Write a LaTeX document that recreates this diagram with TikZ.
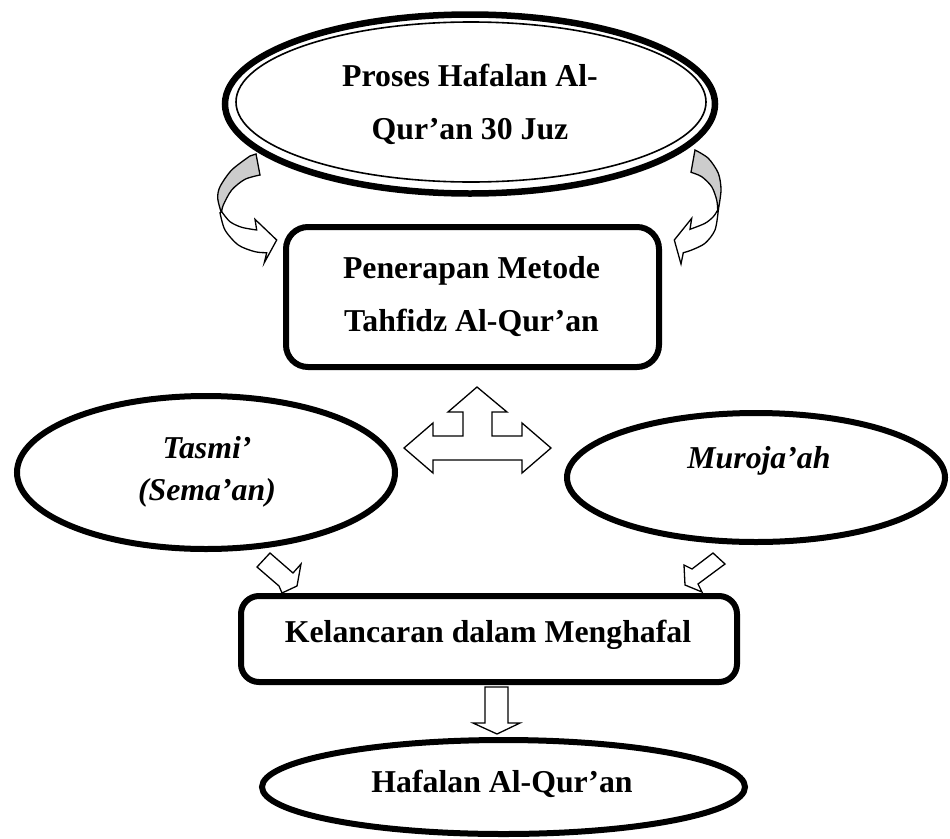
\documentclass[tikz,border=0pt]{standalone}
\usepackage{fontspec}
\setmainfont{Liberation Serif}
\usetikzlibrary{shapes.geometric}
\tikzset{
  shapeline/.style={draw=black, line width=6pt, fill=white, inner sep=0pt, outer sep=0pt},
  ovalbox/.style={shapeline, ellipse},
  roundbox/.style={shapeline, rectangle, rounded corners=20pt},
  lbl/.style={inner sep=0pt, outer sep=0pt, font=\bfseries\fontsize{31.8}{53}\selectfont, align=center},
  lbli/.style={inner sep=0pt, outer sep=0pt, font=\bfseries\itshape\fontsize{31.8}{42}\selectfont, align=center},
  blockarrow/.style={draw=black, line width=1.3pt, fill=white, line join=miter},
  backband/.style={draw=black, line width=1.3pt, fill=gray!40}
}
\begin{document}
\begin{tikzpicture}[x=1pt, y=-1pt]
\useasboundingbox[fill=white] (0,0) rectangle (950,838);

% top ellipse (thick + thin double line)
\node[ovalbox, line width=6.5pt, minimum width=490pt, minimum height=179pt] (proses) at (470,104) {};
\node[ellipse, draw=black, line width=1.6pt, inner sep=0pt, minimum width=470pt, minimum height=160pt] (prosesin) at (471,102) {};
\node[lbl] (prosestxt) at (470,104) {Proses Hafalan Al-\\Qur’an 30 Juz};

% curved arrows: left
\filldraw[backband] (250,156) -- (256,154) -- (260,175)
  -- plot[smooth] coordinates {(260,175) (245,179.3) (231.7,190) (223.3,205) (221.7,211.7)}
  -- plot[smooth] coordinates {(221,211.7) (217.7,198.3) (220,186.7) (231.7,170) (250,156)} -- cycle;
\filldraw[blockarrow] (221.7,211.7)
  -- plot[smooth] coordinates {(221.7,211.7) (230,221.7) (241.7,227.3) (256.7,230)}
  -- (255,219.3) -- (276.7,240) -- (264.3,262.7) -- (266.7,252.7)
  -- plot[smooth] coordinates {(266.7,252.7) (255,251.7) (238.3,245) (225,230) (220,212.7)} -- cycle;
% curved arrows: right
\filldraw[backband] (695,150)
  -- plot[smooth] coordinates {(695,150) (708.3,158.3) (718.3,173.3) (721,190) (718.3,210)}
  -- plot[smooth] coordinates {(717.7,210) (716.7,200) (711.7,186.7) (701.7,176.7) (691,172.3)} -- cycle;
\filldraw[blockarrow] (718.3,210)
  -- plot[smooth] coordinates {(718.3,210) (715,230) (705,243.3) (691.7,250) (683.3,252.7)}
  -- (681,264) -- (674.3,240) -- (691.7,218.3) -- (690,229.3)
  -- plot[smooth] coordinates {(690,229.3) (705,223.3) (713.3,216.7) (717.7,210)} -- cycle;

% method box
\node[roundbox, rounded corners=22pt, minimum width=373pt, minimum height=140pt] (metode) at (472.5,297) {};
\node[lbl] (metodetxt) at (471.5,297) {Penerapan Metode\\Tahfidz Al-Qur’an};

% three-way arrow
\filldraw[blockarrow] (477,387) -- (507,412) -- (492,412) -- (492,436) -- (522,436) -- (522,423)
  -- (551,448) -- (522,473) -- (522,460) -- (433,460) -- (433,473) -- (404,448) -- (433,423)
  -- (433,436) -- (463,436) -- (463,412) -- (448,412) -- cycle;

% side ellipses
\node[ovalbox, minimum width=378pt, minimum height=153pt] (tasmi) at (206,472.5) {};
\node[lbli] (tasmitxt) at (207,471.5) {Tasmi’\\(Sema’an)};
\node[ovalbox, minimum width=378pt, minimum height=129pt] (muroja) at (756,477.5) {};
\node[lbli, anchor=base] (murojatxt) at (759,468) {Muroja’ah};

% small arrows
\filldraw[blockarrow] (270,553) -- (293,573) -- (301,564) -- (297,586) -- (282,593) -- (279,586) -- (257,567) -- cycle;
\filldraw[blockarrow] (713,553) -- (692,569) -- (684,565) -- (685,585) -- (702,592) -- (698,584) -- (725,564) -- cycle;

% fluency box
\node[roundbox, rounded corners=18pt, minimum width=496pt, minimum height=86pt] (lancar) at (489,639) {};
\node[lbl, anchor=base] (lancartxt) at (488,642) {Kelancaran dalam Menghafal};

% down arrow
\filldraw[blockarrow] (485,687) -- (508,687) -- (508,723) -- (520,723) -- (497,734) -- (473,723) -- (485,723) -- cycle;

% bottom ellipse
\node[ovalbox, minimum width=483pt, minimum height=94pt] (hafalan) at (503.5,787) {};
\node[lbl, anchor=base] (hafalantxt) at (502,792) {Hafalan Al-Qur’an};
\end{tikzpicture}
\end{document}
